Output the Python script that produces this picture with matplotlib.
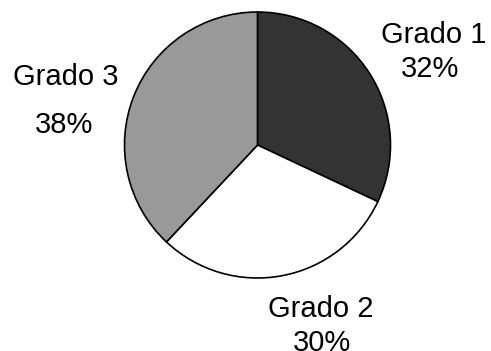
import matplotlib
matplotlib.use("Agg")
import matplotlib.pyplot as plt

categories = ["Grado 1", "Grado 2", "Grado 3"]
values = [32, 30, 38]
colors = ["#333333", "#ffffff", "#999999"]

W, H, DPI = 491, 351, 100
fig = plt.figure(figsize=(W / DPI, H / DPI), dpi=DPI)
plt.rcParams["font.family"] = ["Liberation Sans", "DejaVu Sans"]

# pie centre and radius in pixels
cx, cy, r = 257.5, 145.0, 133.0
ax = fig.add_axes([(cx - r) / W, (H - cy - r) / H, 2 * r / W, 2 * r / H])
ax.pie(values, colors=colors, startangle=90, counterclock=False,
       wedgeprops=dict(edgecolor="black", linewidth=1.2))
ax.set_xlim(-1, 1)
ax.set_ylim(-1, 1)
ax.set_aspect("equal")
ax.axis("off")

def to_data(px, py):
    return (px - cx) / r, (cy - py) / r

# label placements (pixel positions of name baseline and percent baseline)
name_pos = [(434, 43), (321, 317), (66, 85)]
pct_pos = [(430, 77), (322, 351), (64, 133)]

for cat, val, npos, ppos in zip(categories, values, name_pos, pct_pos):
    x, y = to_data(*npos)
    ax.text(x, y, cat, ha="center", va="baseline", fontsize=21, clip_on=False)
    x, y = to_data(*ppos)
    ax.text(x, y, f"{val}%", ha="center", va="baseline", fontsize=21, clip_on=False)

fig.savefig("out.png", dpi=DPI, facecolor="white")
